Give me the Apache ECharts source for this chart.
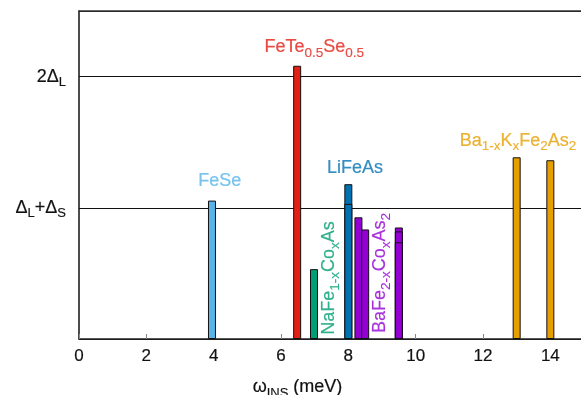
<!DOCTYPE html>
<html>
<head>
<meta charset="utf-8">
<script src="https://cdn.jsdelivr.net/npm/echarts@6/dist/echarts.min.js"></script>
<style>html,body{margin:0;padding:0;background:#fff}#c{width:581px;height:395px}</style>
</head>
<body>
<div id="c"></div>
<script>
// ---- data ----
const xTicks = [0, 2, 4, 6, 8, 10, 12, 14];
const yLevels = { 40: '{m|Δ}{s|L}{m|+Δ}{s|S}', 80: '{m|2Δ}{s|L}' };

const feSe      = [[3.95, 42.2]];
const feTeSe    = [[6.48, 83.3]];
const naFeCoAs  = [[6.98, 21.3]];
const liFeAs    = [[8.0, 47.2], [8.0, 41.2]];
const baFeCoAs  = [[8.3, 37.1], [8.5, 33.4], [9.5, 34.0], [9.5, 32.8], [9.5, 29.5]];
const baKFeAs   = [[13.0, 55.4], [14.0, 54.5]];

const labelNames = ['{m|FeTe}{s|0.5}{m|Se}{s|0.5}', '{m|FeSe}', '{m|LiFeAs}',
                    '{m|Ba}{s|1-x}{m|K}{s|x}{m|Fe}{s|2}{m|As}{s|2}',
                    '{m|NaFe}{s|1-x}{m|Co}{s|x}{m|As}', '{m|BaFe}{s|2-x}{m|Co}{s|x}{m|As}{s|2}'];
const labelPos = [[6.99, 89.0], [4.18, 48.3], [8.2, 52.0], [13.04, 60.5], [7.44, 18.6], [8.94, 20.1]];
const labelColors = ['#E41F14', '#56B4E9', '#0072B2', '#E69F00', '#009E73', '#9400D3'];
const labelRotate = [0, 0, 0, 0, 90, 90];

const FONT = 'Liberation Sans';
function richFor(color, size, subSize) {
  return {
    m: { fontSize: size, fontFamily: FONT, color: color, textBorderColor: color, textBorderWidth: 0.2 },
    s: { fontSize: subSize, fontFamily: FONT, color: color, textBorderColor: color, textBorderWidth: 0.15,
         padding: [Math.round(size * 0.65), 0, 0, 0] }
  };
}

function barSeries(name, data, color) {
  return {
    name: name, type: 'bar', data: data, barWidth: 8, barGap: '-100%',
    itemStyle: { color: color, borderColor: '#111', borderWidth: 1 },
    z: 3
  };
}

const chart = echarts.init(document.getElementById('c'), null, { renderer: 'canvas' });
chart.setOption({
  animation: false,
  backgroundColor: '#fff',
  grid: { left: 79, right: -3, top: 11, bottom: 56, containLabel: false, outerBoundsMode: 'none' },
  xAxis: [{
    type: 'value', min: 0, max: 15, interval: 2,
    axisLine: { show: true, lineStyle: { color: '#222', width: 1.5 } },
    axisTick: { show: true, inside: true, length: 5, lineStyle: { color: '#888', width: 1 } },
    axisLabel: { show: true, margin: 9, fontSize: 17, fontFamily: FONT, color: '#111', showMaxLabel: false,
      textBorderColor: '#111', textBorderWidth: 0.2,
      formatter: v => xTicks.indexOf(v) >= 0 ? String(v) : '' },
    splitLine: { show: false },
    name: '{m|ω}{s|INS}{m| (meV)}', nameLocation: 'middle', nameGap: 36,
    nameTextStyle: { padding: [0, 68, 0, 0], rich: richFor('#111', 18, 13) }
  }, {
    type: 'value', min: 0, max: 15, position: 'top',
    axisLine: { show: true, lineStyle: { color: '#333', width: 1.5 } },
    axisTick: { show: false }, axisLabel: { show: false }, splitLine: { show: false }
  }],
  yAxis: {
    type: 'value', min: 0, max: 100, interval: 40,
    axisLine: { show: true, lineStyle: { color: '#111', width: 1.5 } },
    axisTick: { show: false },
    axisLabel: { margin: 13, formatter: v => yLevels[v] || '', rich: richFor('#111', 18, 13) },
    splitLine: { show: true, lineStyle: { color: '#111', width: 1 } }
  },
  series: [
    barSeries('FeSe', feSe, '#56B4E9'),
    barSeries('FeTe0.5Se0.5', feTeSe, '#E41F14'),
    barSeries('NaFe1-xCoxAs', naFeCoAs, '#009E73'),
    barSeries('LiFeAs', liFeAs, '#0072B2'),
    barSeries('BaFe2-xCoxAs2', baFeCoAs, '#9400D3'),
    barSeries('Ba1-xKxFe2As2', baKFeAs, '#E69F00'),
    {
      type: 'scatter', symbolSize: 0, z: 5, silent: true,
      data: labelPos.map((p, i) => ({
        value: p,
        label: {
          show: true, position: 'inside', rotate: labelRotate[i],
          formatter: labelNames[i], rich: richFor(labelColors[i], 18, 13.5)
        }
      }))
    }
  ]
});
</script>
</body>
</html>
